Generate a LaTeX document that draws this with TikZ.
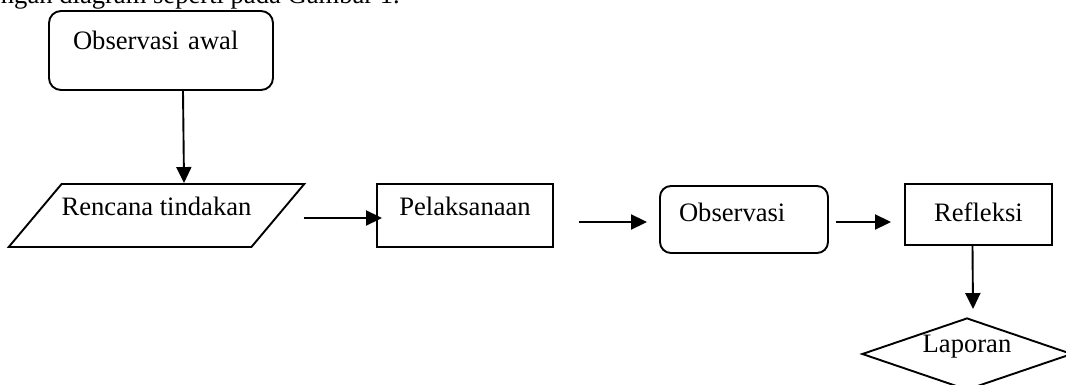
\documentclass[tikz,border=0pt]{standalone}
\usepackage{fontspec}
\setmainfont{Liberation Serif}
\usetikzlibrary{shapes.geometric,arrows.meta,calc}
\begin{document}
\begin{tikzpicture}[x=1pt,y=-1pt,
  every node/.style={font=\fontsize{26.6}{32}\selectfont, inner sep=0pt, line width=1.9pt},
  box/.style={draw, rectangle},
  rbox/.style={draw, rectangle, rounded corners=12pt},
  para/.style={draw, trapezium, trapezium left angle=50, trapezium right angle=130, trapezium stretches=true},
  dia/.style={draw, diamond, aspect=2.9},
  arr/.style={-{Triangle[length=16pt,width=15pt]}, line width=1.9pt}]
\useasboundingbox (0,0) rectangle (1066,385);
\clip (0,0) rectangle (1066,385);

\node[anchor=base west] (intro) at (0,4) {ngan diagram seperti pada Gambar 1.};

\node[rbox, minimum width=224pt, minimum height=79pt, inner xsep=24pt, text width=176pt, align=left, text height=39pt, text depth=40pt] (obsawal) at (161,50.5) {Observasi awal};

\node[para, minimum width=295pt, minimum height=63pt, text height=31pt, text depth=32pt] (rencana) at (156.5,215.5) {Rencana tindakan};

\node[box, minimum width=176pt, minimum height=63pt, text height=31pt, text depth=32pt] (pelak) at (465,215.5) {Pelaksanaan};

\node[rbox, rounded corners=11pt, minimum width=168pt, minimum height=67pt, inner xsep=19pt, text width=130pt, align=left, text height=36pt, text depth=31pt] (obs) at (744,219.5) {Observasi};

\node[box, minimum width=147pt, minimum height=61pt, text height=38pt, text depth=23pt] (refl) at (978.5,214.5) {Refleksi};

\node[dia, minimum width=210pt, minimum height=72pt, text height=18pt, text depth=22pt] (lap) at (967,354) {Laporan};

\draw[arr] ($(obsawal.south)+(22,0)$) -- ($(rencana.north)+(27.5,0)$);
\draw[arr] ($(rencana.east)+(24.5,2.5)$) -- ($(pelak.west)+(6,2.5)$);
\draw[arr] ($(pelak.east)+(25,6.5)$) -- ($(obs.west)+(-12,2.5)$);
\draw[arr] ($(obs.east)+(7,2.5)$) -- ($(refl.west)+(-13,7.5)$);
\draw[arr] ($(refl.south)+(-6,0)$) -- ($(lap.north)+(6,-8)$);
\end{tikzpicture}
\end{document}
